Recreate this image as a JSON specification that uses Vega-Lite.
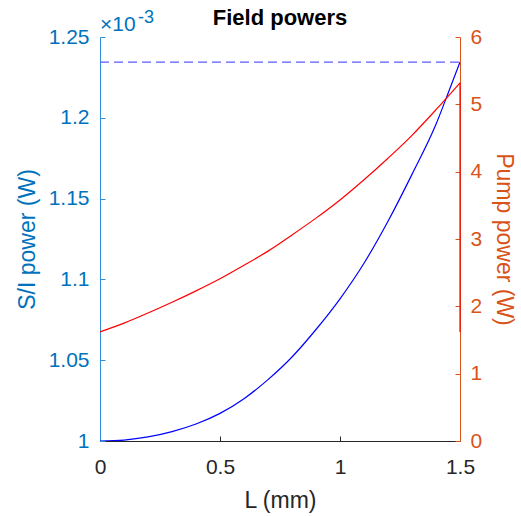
{
  "$schema": "https://vega.github.io/schema/vega-lite/v6.json",
  "width": 360,
  "height": 404,
  "autosize": "none",
  "padding": {"left": 100, "top": 37, "right": 61, "bottom": 75},
  "background": "white",
  "config": {
    "view": {"stroke": null},
    "font": "Liberation Sans",
    "axis": {"grid": false, "labelFont": "Liberation Sans", "titleFont": "Liberation Sans", "labelFontSize": 21, "titleFontSize": 23, "titleFontWeight": "normal", "tickSize": -5, "domainWidth": 1, "labelFlush": false}
  },
  "title": {"text": "Field powers", "fontSize": 22, "fontWeight": "bold", "color": "#000000", "offset": -21, "anchor": "middle"},
  "datasets": {
    "si": [
      {"L": 0.0, "P": 1.0},
      {"L": 0.1, "P": 1.0006},
      {"L": 0.2, "P": 1.0025},
      {"L": 0.3, "P": 1.0058},
      {"L": 0.4, "P": 1.0105},
      {"L": 0.5, "P": 1.0171},
      {"L": 0.6, "P": 1.0262},
      {"L": 0.7, "P": 1.038},
      {"L": 0.8, "P": 1.052},
      {"L": 0.9, "P": 1.069},
      {"L": 1.0, "P": 1.088},
      {"L": 1.1, "P": 1.11},
      {"L": 1.2, "P": 1.136},
      {"L": 1.3, "P": 1.165},
      {"L": 1.4, "P": 1.196},
      {"L": 1.45, "P": 1.215},
      {"L": 1.5, "P": 1.2345}
    ],
    "pump": [
      {"L": 0.0, "W": 1.62},
      {"L": 0.1, "W": 1.75},
      {"L": 0.2, "W": 1.9},
      {"L": 0.3, "W": 2.06},
      {"L": 0.4, "W": 2.23},
      {"L": 0.5, "W": 2.41},
      {"L": 0.6, "W": 2.61},
      {"L": 0.7, "W": 2.82},
      {"L": 0.8, "W": 3.06},
      {"L": 0.9, "W": 3.31},
      {"L": 1.0, "W": 3.58},
      {"L": 1.1, "W": 3.88},
      {"L": 1.2, "W": 4.2},
      {"L": 1.3, "W": 4.54},
      {"L": 1.4, "W": 4.92},
      {"L": 1.5, "W": 5.32}
    ],
    "pumpEdge": [{"L": 1.5, "lo": 1.62, "hi": 5.32}],
    "ref": [{"L": 0, "P": 1.2345}, {"L": 1.5, "P": 1.2345}],
    "exp": [{"L": 0, "P": 1.25, "t1": "×10", "t2": "-3"}]
  },
  "layer": [
    {
      "layer": [
        {
          "data": {"name": "si"},
          "mark": {"type": "line", "color": "#0000FF", "strokeWidth": 1.2, "clip": true, "interpolate": "monotone"},
          "encoding": {
            "x": {"field": "L", "type": "quantitative", "scale": {"domain": [0, 1.5], "nice": false},
              "axis": {"title": "L (mm)", "values": [0, 0.5, 1, 1.5], "format": "~g", "domainColor": "#262626", "tickColor": "#262626", "labelColor": "#262626", "titleColor": "#262626", "labelPadding": 20, "titlePadding": 12}},
            "y": {"field": "P", "type": "quantitative", "scale": {"domain": [1, 1.25], "nice": false, "zero": false},
              "axis": {"title": "S/I power (W)", "orient": "left", "values": [1, 1.05, 1.1, 1.15, 1.2, 1.25], "format": "~g", "domainColor": "#2f8fd8", "tickColor": "#2f8fd8", "labelColor": "#0072BD", "titleColor": "#0072BD", "labelPadding": 16, "titlePadding": 9}}
          }
        },
        {
          "data": {"name": "ref"},
          "mark": {"type": "line", "color": "#5c5cff", "strokeWidth": 1.3, "strokeDash": [9, 5]},
          "encoding": {
            "x": {"field": "L", "type": "quantitative"},
            "y": {"field": "P", "type": "quantitative"}
          }
        },
        {
          "data": {"name": "exp"},
          "mark": {"type": "text", "align": "left", "baseline": "alphabetic", "dx": 0, "dy": -6, "fontSize": 21, "color": "#0072BD"},
          "encoding": {
            "x": {"field": "L", "type": "quantitative"},
            "y": {"field": "P", "type": "quantitative"},
            "text": {"field": "t1"}
          }
        },
        {
          "data": {"name": "exp"},
          "mark": {"type": "text", "align": "left", "baseline": "alphabetic", "dx": 38, "dy": -14, "fontSize": 18, "color": "#0072BD"},
          "encoding": {
            "x": {"field": "L", "type": "quantitative"},
            "y": {"field": "P", "type": "quantitative"},
            "text": {"field": "t2"}
          }
        }
      ]
    },
    {
      "layer": [
        {
          "data": {"name": "pump"},
          "mark": {"type": "line", "color": "#FF0000", "strokeWidth": 1.2, "interpolate": "monotone"},
          "encoding": {
            "x": {"field": "L", "type": "quantitative"},
            "y": {"field": "W", "type": "quantitative", "scale": {"domain": [0, 6], "nice": false},
              "axis": {"title": "Pump power (W)", "orient": "right", "values": [0, 1, 2, 3, 4, 5, 6], "format": "~g", "titleAngle": 90, "domainColor": "#D95319", "tickColor": "#D95319", "labelColor": "#D95319", "titleColor": "#D95319", "labelPadding": 15, "titlePadding": 10}}
          }
        },
        {
          "data": {"name": "pumpEdge"},
          "mark": {"type": "rule", "color": "#FF0000", "strokeWidth": 1.2},
          "encoding": {
            "x": {"field": "L", "type": "quantitative"},
            "y": {"field": "lo", "type": "quantitative",
              "axis": {"title": "Pump power (W)", "orient": "right", "values": [0, 1, 2, 3, 4, 5, 6], "format": "~g", "titleAngle": 90, "domainColor": "#D95319", "tickColor": "#D95319", "labelColor": "#D95319", "titleColor": "#D95319", "labelPadding": 15, "titlePadding": 10}},
            "y2": {"field": "hi"}
          }
        }
      ]
    }
  ],
  "resolve": {"scale": {"y": "independent"}}
}
